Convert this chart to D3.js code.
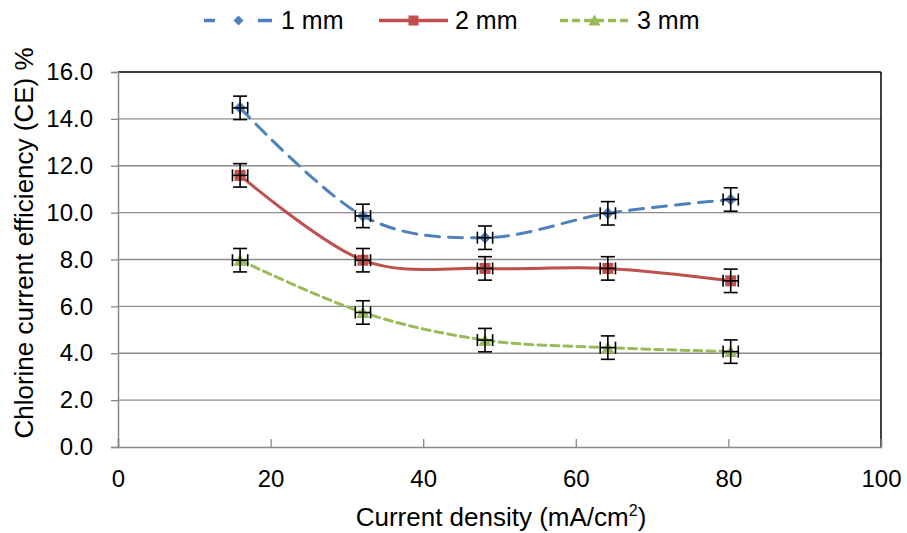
<!DOCTYPE html>
<html><head><meta charset="utf-8">
<script src="https://cdn.jsdelivr.net/npm/d3@7"></script>
<style>body{margin:0;background:#fff}svg{display:block}text{font-family:"Liberation Sans",Arial,sans-serif;fill:#000}</style>
</head><body><svg id="c" width="907" height="533"></svg>
<script>
const xValues = [16.0, 32.1, 48.1, 64.2, 80.3];
const series1mm = [14.47, 9.86, 8.93, 9.97, 10.56];
const series2mm = [11.59, 7.97, 7.62, 7.62, 7.09];
const series3mm = [7.97, 5.74, 4.56, 4.24, 4.07];
const seriesNames = ["1 mm", "2 mm", "3 mm"];
const yErr = 0.5, xErr = 1.0;
const xTicks = [0, 20, 40, 60, 80, 100];
const yTicks = [0, 2, 4, 6, 8, 10, 12, 14, 16];

const svg = d3.select("#c");
const L = 118, R = 881, T = 72, B = 447;
const FONT = "Liberation Sans, Arial, sans-serif";
const x = d3.scaleLinear().domain([0, 100]).range([L, R]);
const y = d3.scaleLinear().domain([0, 16]).range([B, T]);

const styles = [
  {color: "#4F81BD", dash: "14,9", marker: "diamond", legendDash: "11,43,14"},
  {color: "#C0504D", dash: null, marker: "square", legendDash: null},
  {color: "#9BBB59", dash: "8,5", marker: "triangle", legendDash: "8,4"}
];
const allSeries = [series1mm, series2mm, series3mm];

// gridlines
svg.append("g").selectAll("line").data(yTicks.filter(d => d > 0 && d < 16)).join("line")
  .attr("x1", L).attr("x2", R).attr("y1", d => y(d)).attr("y2", d => y(d))
  .attr("stroke", "#8c8c8c").attr("stroke-width", 1.3);
// plot border (top/right black)
svg.append("line").attr("x1", L).attr("x2", R).attr("y1", T).attr("y2", T).attr("stroke", "#000").attr("stroke-width", 1.5);
svg.append("line").attr("x1", R).attr("x2", R).attr("y1", T).attr("y2", B).attr("stroke", "#000").attr("stroke-width", 1.5);

// y axis
const yAxis = d3.axisLeft(y).tickValues(yTicks).tickFormat(d3.format(".1f")).tickSize(7).tickPadding(18);
const gy = svg.append("g").attr("transform", `translate(${L},0)`).call(yAxis);
gy.select(".domain").attr("stroke", "#888").attr("stroke-width", 1.5);
gy.selectAll(".tick line").attr("stroke", "#888").attr("stroke-width", 1.3);
gy.selectAll(".tick text").attr("font-size", 24).style("font-family", FONT);

// x axis (inner ticks)
const xAxis = d3.axisBottom(x).tickValues(xTicks).tickSize(-8).tickPadding(23);
const gx = svg.append("g").attr("transform", `translate(0,${B})`).call(xAxis);
gx.select(".domain").attr("stroke", "#888").attr("stroke-width", 1.5);
gx.selectAll(".tick line").attr("stroke", "#888").attr("stroke-width", 1.3);
gx.selectAll(".tick text").attr("font-size", 24).style("font-family", FONT);

// titles
const xt = svg.append("text").attr("x", 501).attr("y", 526).attr("text-anchor", "middle").attr("font-size", 26);
xt.append("tspan").text("Current density (mA/cm");
xt.append("tspan").attr("font-size", 16).attr("dy", -10).text("2");
xt.append("tspan").attr("dy", 10).text(")");
svg.append("text").attr("transform", "translate(33,243) rotate(-90)").attr("text-anchor", "middle").attr("font-size", 26)
  .text("Chlorine current efficiency (CE) %");

function drawMarker(g, type, cx, cy, color, s) {
  if (type === "diamond") {
    g.append("path").attr("d", `M${cx},${cy - s}L${cx + s},${cy}L${cx},${cy + s}L${cx - s},${cy}Z`).attr("fill", color);
  } else if (type === "square") {
    g.append("rect").attr("x", cx - s).attr("y", cy - s).attr("width", 2 * s).attr("height", 2 * s).attr("fill", color);
  } else {
    g.append("path").attr("d", `M${cx},${cy - s - 1}L${cx + s + 1},${cy + s}L${cx - s - 1},${cy + s}Z`).attr("fill", color);
  }
}

const line = d3.line().x((d, i) => x(xValues[i])).y(d => y(d)).curve(d3.curveCardinal.tension(0));

allSeries.forEach((vals, si) => {
  const st = styles[si];
  const g = svg.append("g");
  g.append("path").datum(vals).attr("d", line).attr("fill", "none")
    .attr("stroke", st.color).attr("stroke-width", 3)
    .attr("stroke-dasharray", st.dash).attr("stroke-linecap", st.dash ? "round" : "butt");
  vals.forEach((v, i) => {
    drawMarker(g, st.marker, x(xValues[i]), y(v), st.color, st.marker === "diamond" ? 6 : 5.5);
  });
  // error bars
  const eb = svg.append("g").attr("stroke", "#000").attr("stroke-width", 1.6).attr("fill", "none");
  vals.forEach((v, i) => {
    const cx = x(xValues[i]), cy = y(v);
    const y1 = y(v + yErr), y2 = y(v - yErr);
    const x1 = x(xValues[i] - xErr), x2 = x(xValues[i] + xErr);
    eb.append("line").attr("x1", cx).attr("x2", cx).attr("y1", y1).attr("y2", y2);
    eb.append("line").attr("x1", cx - 7).attr("x2", cx + 7).attr("y1", y1).attr("y2", y1);
    eb.append("line").attr("x1", cx - 7).attr("x2", cx + 7).attr("y1", y2).attr("y2", y2);
    eb.append("line").attr("x1", x1).attr("x2", x2).attr("y1", cy).attr("y2", cy);
    eb.append("line").attr("x1", x1).attr("x2", x1).attr("y1", cy - 6).attr("y2", cy + 6);
    eb.append("line").attr("x1", x2).attr("x2", x2).attr("y1", cy - 6).attr("y2", cy + 6);
  });
});

// legend
const legendX = [204, 379, 560];
const legendTextX = [281, 455, 637];
const lg = svg.append("g");
seriesNames.forEach((name, si) => {
  const st = styles[si];
  const lx = legendX[si];
  lg.append("line").attr("x1", lx).attr("x2", lx + 69).attr("y1", 20.5).attr("y2", 20.5)
    .attr("stroke", st.color).attr("stroke-width", 3.5).attr("stroke-dasharray", st.legendDash);
  drawMarker(lg, st.marker, lx + 34.5, 20.5, st.color, 5);
  lg.append("text").attr("x", legendTextX[si]).attr("y", 29).attr("font-size", 25).text(name);
});
</script></body></html>
